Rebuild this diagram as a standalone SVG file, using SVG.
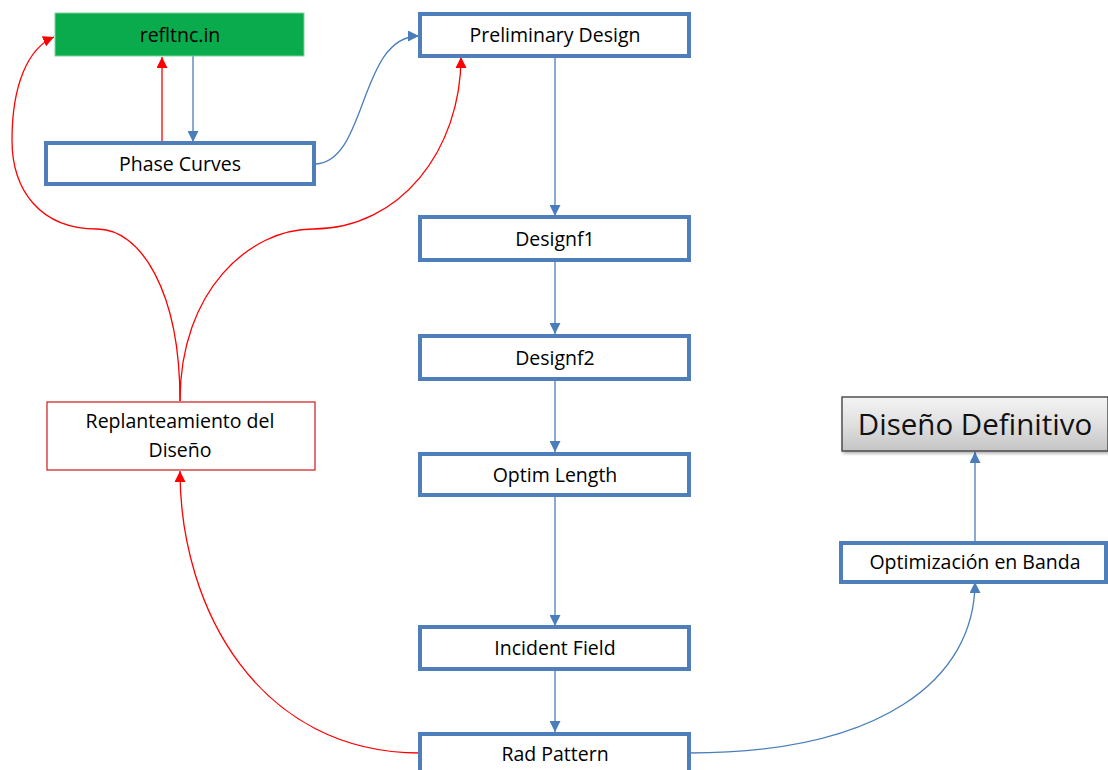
<svg xmlns="http://www.w3.org/2000/svg" width="1108" height="770" viewBox="0 0 1108 770">
<defs>
<marker id="ab" viewBox="0 0 10 10" refX="10" refY="5" markerWidth="11" markerHeight="11" markerUnits="userSpaceOnUse" orient="auto">
<path d="M0,0 L10,5 L0,10 Z" fill="#4a7ebb"/>
</marker>
<marker id="ar" viewBox="0 0 10 10" refX="10" refY="5" markerWidth="11" markerHeight="11" markerUnits="userSpaceOnUse" orient="auto">
<path d="M0,0 L10,5 L0,10 Z" fill="#ff0000"/>
</marker>
<linearGradient id="gray" x1="0" y1="0" x2="0" y2="1">
<stop offset="0" stop-color="#f4f4f4"/>
<stop offset="0.5" stop-color="#e0e0e0"/>
<stop offset="1" stop-color="#c4c4c4"/>
</linearGradient>
<filter id="sh" x="-5%" y="-10%" width="115%" height="140%">
<feDropShadow dx="1.5" dy="2" stdDeviation="1.5" flood-color="#000" flood-opacity="0.3"/>
</filter>
</defs>
<style>
.box{fill:#fff;stroke:#4f7fbb;stroke-width:4}
.t{font-family:"Open Sans","Liberation Sans",sans-serif;font-size:19.5px;fill:#000;text-anchor:middle}
.cb{fill:none;stroke:#4a7ebb;stroke-width:1.3}
.cr{fill:none;stroke:#ff0000;stroke-width:1.3}
</style>
<rect width="1108" height="770" fill="#fff"/>
<g id="connectors">
<path class="cr" d="M162,143 L162,57" marker-end="url(#ar)"/>
<path class="cb" d="M193,56 L193,142" marker-end="url(#ab)"/>
<path class="cb" d="M314,164 C368,164 358,36 419,36" marker-end="url(#ab)"/>
<path class="cb" d="M555,56 L555,216" marker-end="url(#ab)"/>
<path class="cb" d="M555,261 L555,334" marker-end="url(#ab)"/>
<path class="cb" d="M555,379 L555,452" marker-end="url(#ab)"/>
<path class="cb" d="M555,495 L555,626" marker-end="url(#ab)"/>
<path class="cb" d="M555,669 L555,732" marker-end="url(#ab)"/>
<path class="cr" d="M180,401 C180,290 140,229 97,229 C40,229 12,190 12,140 C12,85 28,48 54,37" marker-end="url(#ar)"/>
<path class="cr" d="M180,401 C180,290 250,229 313,229 C400,229 461,150 461,57" marker-end="url(#ar)"/>
<path class="cr" d="M420,753 C260,753 180,610 180,471" marker-end="url(#ar)"/>
<path class="cb" d="M689,753 C880,753 975,680 975,582" marker-end="url(#ab)"/>
<path class="cb" d="M975,542 L975,452" marker-end="url(#ab)"/>
</g>
<g id="refltnc">
<rect x="55" y="13" width="249" height="43" fill="#0aab4d" stroke="#7fd39a" stroke-width="1"/>
<text class="t" x="180" y="42">refltnc.in</text>
</g>
<g id="phase-curves">
<rect class="box" x="46" y="143" width="268" height="41"/>
<text class="t" x="180" y="171">Phase Curves</text>
</g>
<g id="preliminary-design">
<rect class="box" x="420" y="14" width="269" height="42"/>
<text class="t" x="555" y="42">Preliminary Design</text>
</g>
<g id="designf1">
<rect class="box" x="420" y="217" width="269" height="43"/>
<text class="t" x="555" y="246">Designf1</text>
</g>
<g id="designf2">
<rect class="box" x="420" y="336" width="269" height="43"/>
<text class="t" x="555" y="365">Designf2</text>
</g>
<g id="optim-length">
<rect class="box" x="420" y="454" width="269" height="41"/>
<text class="t" x="555" y="482">Optim Length</text>
</g>
<g id="incident-field">
<rect class="box" x="420" y="627" width="269" height="42"/>
<text class="t" x="555" y="655">Incident Field</text>
</g>
<g id="rad-pattern">
<rect class="box" x="420" y="734" width="269" height="42"/>
<text class="t" x="555" y="761">Rad Pattern</text>
</g>
<g id="replanteamiento">
<rect x="47" y="402" width="268" height="68" fill="#fff" stroke="#d42a2a" stroke-width="1.3"/>
<text class="t" x="180" y="428">Replanteamiento del</text>
<text class="t" x="180" y="457">Diseño</text>
</g>
<g id="optimizacion">
<rect class="box" x="841" y="543" width="265" height="39"/>
<text class="t" x="975" y="569">Optimización en Banda</text>
</g>
<g id="diseno-definitivo">
<rect x="842" y="397" width="266" height="54" fill="url(#gray)" stroke="#3a3a3a" stroke-width="1.3" filter="url(#sh)"/>
<text x="975" y="435" font-family="'Open Sans','Liberation Sans',sans-serif" font-size="29.5" fill="#111" text-anchor="middle">Diseño Definitivo</text>
</g>
</svg>
